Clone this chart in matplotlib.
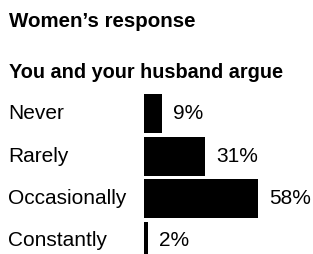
import matplotlib.pyplot as plt

categories = ["Never", "Rarely", "Occasionally", "Constantly"]
values = [9, 31, 58, 2]
value_labels = ["9%", "31%", "58%", "2%"]
title_top = "Women\u2019s response"
title_main = "You and your husband argue"

plt.rcParams['font.family'] = ['Liberation Sans', 'DejaVu Sans']

W, H = 313, 254
fig = plt.figure(figsize=(W / 100, H / 100), dpi=100)

# bars axis starts at x=144 px, 1% ~ 1.97 px
x0 = 144
ax = fig.add_axes([x0 / W, 0, (W - x0) / W, 1])
ax.set_xlim(0, (W - x0) / 1.97)
step = 42.5
first = 113.5
ax.set_ylim((H - first) / step, -first / step)
ax.axis('off')

pos = list(range(len(categories)))
ax.barh(pos, values, height=39 / step, color='black', align='center')

for i, (v, lab) in enumerate(zip(values, value_labels)):
    ax.annotate(lab, (v, i), xytext=(8, 0), textcoords='offset points',
                va='center', ha='left', fontsize=15)
    ax.annotate(categories[i], (0, i), xycoords=('figure pixels', 'data'),
                xytext=(8, 0), textcoords='offset pixels',
                va='center', ha='left', fontsize=15)

fig.text(9 / W, 1 - 27 / H, title_top, fontsize=14.8, fontweight='bold', va='baseline')
fig.text(9 / W, 1 - 78 / H, title_main, fontsize=14.3, fontweight='bold', va='baseline')

fig.savefig('out.png', dpi=100, facecolor='white')
